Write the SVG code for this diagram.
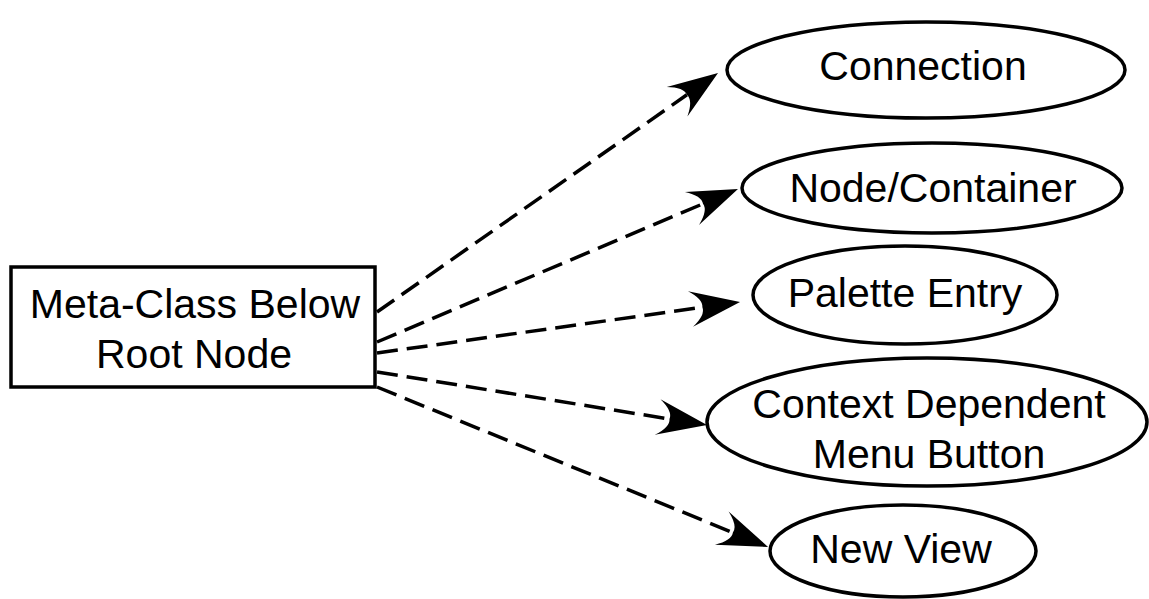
<svg xmlns="http://www.w3.org/2000/svg" width="1149" height="599" viewBox="0 0 1149 599">
<style>
.shape{fill:#fff;stroke:#000;stroke-width:3.5}
.lbl{font-family:"Liberation Sans",Arial,sans-serif;font-size:41px;fill:#000;text-anchor:middle}
.edge{fill:none;stroke:#000;stroke-width:3.5;stroke-dasharray:21 9}
</style>
<defs>
<marker id="arr" markerUnits="userSpaceOnUse" markerWidth="52" markerHeight="38" refX="12" refY="18" orient="auto" overflow="visible">
<path d="M50,18 L0,0 Q14,10 12,18 Q14,26 0,36 Z" fill="#000"/>
</marker>
</defs>
<rect width="1149" height="599" fill="#fff"/>
<g id="connectors">
<line class="edge" x1="377" y1="312" x2="686.9" y2="94.8" marker-end="url(#arr)"/>
<line class="edge" x1="377" y1="342" x2="703.0" y2="203.8" marker-end="url(#arr)"/>
<line class="edge" x1="377" y1="353" x2="702.4" y2="307.3" marker-end="url(#arr)"/>
<line class="edge" x1="377" y1="372" x2="669.5" y2="419.0" marker-end="url(#arr)"/>
<line class="edge" x1="377" y1="387" x2="732.9" y2="532.6" marker-end="url(#arr)"/>
</g>
<g id="root">
<rect class="shape" x="11" y="267" width="364" height="120"/>
<text class="lbl" x="195" y="318">Meta-Class Below</text>
<text class="lbl" x="194" y="368">Root Node</text>
</g>
<g id="connection">
<ellipse class="shape" cx="926" cy="70" rx="199" ry="48"/>
<text class="lbl" x="923" y="80">Connection</text>
</g>
<g id="nodecontainer">
<ellipse class="shape" cx="932" cy="188" rx="190" ry="45"/>
<text class="lbl" x="933" y="202">Node/Container</text>
</g>
<g id="palette">
<ellipse class="shape" cx="905" cy="295" rx="152" ry="49"/>
<text class="lbl" x="905" y="307">Palette Entry</text>
</g>
<g id="context">
<ellipse class="shape" cx="927" cy="422" rx="220" ry="64"/>
<text class="lbl" x="929" y="418">Context Dependent</text>
<text class="lbl" x="929" y="468">Menu Button</text>
</g>
<g id="newview">
<ellipse class="shape" cx="903" cy="551" rx="133" ry="46"/>
<text class="lbl" x="901" y="563">New View</text>
</g>
</svg>
